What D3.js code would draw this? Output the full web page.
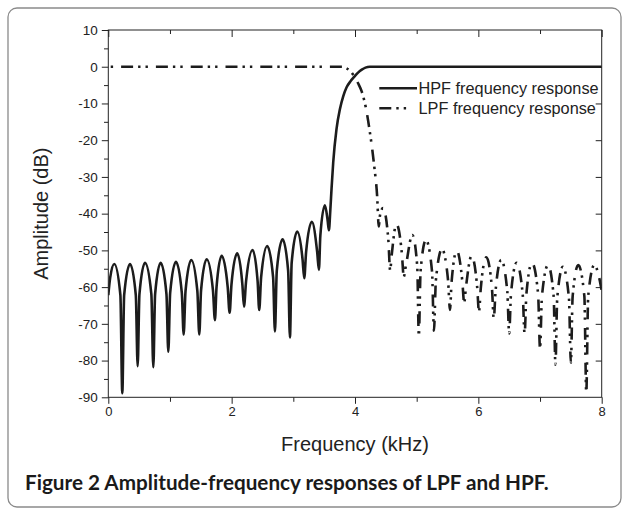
<!DOCTYPE html>
<html>
<head>
<meta charset="utf-8">
<script src="https://cdn.jsdelivr.net/npm/d3@7"></script>
<style>
  html, body { margin: 0; padding: 0; background: #fff; }
  svg { display: block; }
</style>
</head>
<body>
<script>
// --- data: [frequency kHz, amplitude dB] --------------------------------
const hpfPoints = [
  [0.000,-62.2],[0.030,-57.5],[0.097,-53.7],[0.196,-62.2],[0.227,-88.9],
  [0.257,-62.2],[0.352,-53.7],[0.446,-62.2],[0.476,-81.5],
  [0.505,-61.9],[0.595,-53.4],[0.698,-61.9],[0.730,-81.8],
  [0.759,-61.9],[0.849,-53.4],[0.943,-61.9],[0.973,-77.6],
  [1.003,-61.6],[1.097,-53.1],[1.192,-61.6],[1.222,-72.9],
  [1.252,-61.1],[1.345,-52.6],[1.444,-61.1],[1.475,-72.9],
  [1.504,-60.9],[1.595,-52.4],[1.697,-60.9],[1.729,-69.0],
  [1.755,-60.0],[1.838,-51.5],[1.936,-60.0],[1.967,-67.0],
  [1.997,-59.3],[2.090,-50.8],[2.174,-59.3],[2.200,-65.3],
  [2.234,-58.4],[2.340,-49.9],[2.421,-58.4],[2.447,-66.2],
  [2.478,-57.3],[2.577,-48.8],[2.672,-57.3],[2.702,-72.1],
  [2.732,-55.5],[2.826,-47.0],[2.916,-55.5],[2.945,-73.7],
  [2.973,-53.4],[3.063,-44.9],[3.150,-52.5],[3.177,-57.6],
  [3.207,-50.5],[3.300,-42.2],[3.387,-50.5],[3.415,-55.3],
  [3.438,-46.0],[3.512,-37.7],[3.556,-41.8],[3.577,-44.5],
  [3.600,-39.0],[3.620,-33.1],[3.647,-26.0],[3.700,-17.0],[3.755,-11.6],
  [3.810,-8.0],[3.864,-5.6],[3.930,-3.9],[3.990,-2.7],[4.050,-1.6],
  [4.110,-0.8],[4.170,-0.25],[4.240,0],[8.000,0]
];

const lpfPoints = [
  [0.000,0],[3.800,0],[3.860,-0.4],[3.930,-1.3],[3.990,-2.7],[4.050,-4.5],
  [4.110,-6.8],[4.180,-11.5],[4.240,-17.7],[4.310,-26.8],[4.360,-35.5],[4.385,-43.5],
  [4.405,-40.5],[4.455,-38.5],[4.540,-47.0],[4.570,-55.4],
  [4.595,-51.3],[4.670,-42.8],[4.762,-51.3],[4.790,-57.2],
  [4.824,-54.3],[4.930,-45.8],[5.009,-54.3],[5.035,-73.3],
  [5.063,-55.7],[5.150,-47.2],[5.249,-55.7],[5.280,-71.9],
  [5.311,-58.2],[5.410,-49.7],[5.509,-58.2],[5.540,-66.2],
  [5.566,-58.6],[5.650,-50.1],[5.741,-58.6],[5.770,-64.3],
  [5.799,-60.0],[5.890,-51.5],[5.981,-60.0],[6.010,-66.7],
  [6.039,-60.4],[6.130,-51.9],[6.221,-60.4],[6.250,-68.7],
  [6.279,-61.1],[6.370,-52.6],[6.469,-61.1],[6.500,-72.6],
  [6.529,-61.9],[6.620,-53.4],[6.719,-61.9],[6.750,-72.8],
  [6.779,-61.9],[6.870,-53.4],[6.969,-61.9],[7.000,-76.7],
  [7.031,-62.5],[7.130,-54.0],[7.221,-62.5],[7.250,-81.1],
  [7.279,-63.0],[7.370,-54.5],[7.469,-63.0],[7.500,-80.6],
  [7.529,-62.5],[7.620,-54.0],[7.719,-62.5],[7.750,-88.9],
  [7.781,-62.5],[7.880,-54.0],[7.960,-57.5],[8.000,-61.0]
];

const xMajorTicks = [0, 2, 4, 6, 8];
const xMinorTicks = [1, 3, 5, 7];
const yMajorTicks = [10, 0, -10, -20, -30, -40, -50, -60, -70, -80, -90];
const yMinorTicks = [5, -5, -15, -25, -35, -45, -55, -65, -75, -85];
const seriesNames = ["HPF frequency response", "LPF frequency response"];
const captionLabel = "Figure 2";
const captionText = " Amplitude-frequency responses of LPF and HPF.";

// --- layout ---------------------------------------------------------------
const W = 625, H = 510;
const plot = { left: 108.3, right: 601.7, top: 30, bottom: 397.3 };
const ink = "#222";
const lpfDash = "12,5,2.4,5,2.4,8";

const x = d3.scaleLinear([0, 8], [plot.left, plot.right]);
const y = d3.scaleLinear([-90, 10], [plot.bottom, plot.top]);

const svg = d3.select("body").append("svg")
  .attr("width", W).attr("height", H)
  .attr("font-family", "'Liberation Sans', Arial, sans-serif");

// rounded figure border
svg.append("rect")
  .attr("x", 8).attr("y", 8).attr("width", 613).attr("height", 499)
  .attr("rx", 9).attr("fill", "none")
  .attr("stroke", "#8a8a8a").attr("stroke-width", 1.3);

// --- axes -----------------------------------------------------------------
function tidy(g, fontSize) {
  g.select(".domain").remove();
  g.selectAll("line").attr("stroke", ink).attr("stroke-width", 1);
  g.selectAll("text").attr("fill", ink)
    .attr("font-size", fontSize)
    .attr("font-family", "'Liberation Sans', Arial, sans-serif");
}

svg.append("g").attr("transform", `translate(0,${plot.bottom})`)
  .call(d3.axisBottom(x).tickValues(xMajorTicks).tickSize(6.5).tickPadding(3)
        .tickFormat(d => String(d)))
  .call(g => tidy(g, 13));
svg.append("g").attr("transform", `translate(0,${plot.bottom})`)
  .call(d3.axisBottom(x).tickValues(xMinorTicks).tickSize(4.5).tickFormat(""))
  .call(g => tidy(g, 13));

// top axis: ticks point inward
svg.append("g").attr("transform", `translate(0,${plot.top})`)
  .call(d3.axisBottom(x).tickValues(xMajorTicks).tickSize(7).tickFormat(""))
  .call(g => tidy(g, 13));
svg.append("g").attr("transform", `translate(0,${plot.top})`)
  .call(d3.axisBottom(x).tickValues(xMinorTicks).tickSize(4).tickFormat(""))
  .call(g => tidy(g, 13));

svg.append("g").attr("transform", `translate(${plot.left},0)`)
  .call(d3.axisLeft(y).tickValues(yMajorTicks).tickSize(6.5).tickPadding(4)
        .tickFormat(d => String(d)))
  .call(g => tidy(g, 13.5));
svg.append("g").attr("transform", `translate(${plot.left},0)`)
  .call(d3.axisLeft(y).tickValues(yMinorTicks).tickSize(4.3).tickFormat(""))
  .call(g => tidy(g, 13.5));

// right axis: inward major ticks only
svg.append("g").attr("transform", `translate(${plot.right},0)`)
  .call(d3.axisLeft(y).tickValues(yMajorTicks.slice(1, -1)).tickSize(6).tickFormat(""))
  .call(g => tidy(g, 13.5));

// frame
svg.append("rect")
  .attr("x", plot.left).attr("y", plot.top)
  .attr("width", plot.right - plot.left).attr("height", plot.bottom - plot.top)
  .attr("fill", "none").attr("stroke", ink).attr("stroke-width", 1);

// --- curves ---------------------------------------------------------------
svg.append("defs").append("clipPath").attr("id", "plotClip")
  .append("rect")
  .attr("x", plot.left).attr("y", plot.top)
  .attr("width", plot.right - plot.left).attr("height", plot.bottom - plot.top);

const line = d3.line()
  .x(d => x(d[0])).y(d => y(d[1]))
  .curve(d3.curveMonotoneX);

const curves = svg.append("g").attr("clip-path", "url(#plotClip)")
  .attr("fill", "none").attr("stroke", "#1c1c1c").attr("stroke-width", 2.6)
  .attr("stroke-linejoin", "round");

curves.append("path").attr("d", line(hpfPoints));
curves.append("path").attr("d", line(lpfPoints))
  .attr("stroke-dasharray", lpfDash).attr("stroke-dashoffset", 22);

// --- legend ---------------------------------------------------------------
const legend = svg.append("g").attr("font-size", 16.3).attr("fill", ink);
[
  { name: seriesNames[0], dash: null, yLine: 88.3, yText: 94 },
  { name: seriesNames[1], dash: lpfDash, yLine: 108.3, yText: 113.5 }
].forEach(s => {
  legend.append("line")
    .attr("x1", 379.3).attr("x2", s.dash ? 411 : 417)
    .attr("y1", s.yLine).attr("y2", s.yLine)
    .attr("stroke", "#1c1c1c").attr("stroke-width", 2.6)
    .attr("stroke-dasharray", s.dash);
  legend.append("text").attr("x", 418.5).attr("y", s.yText).text(s.name);
});

// --- axis titles ----------------------------------------------------------
svg.append("text")
  .attr("x", (plot.left + plot.right) / 2).attr("y", 451)
  .attr("text-anchor", "middle").attr("font-size", 20).attr("fill", ink)
  .text("Frequency (kHz)");

svg.append("text")
  .attr("transform", `translate(48,${(plot.top + plot.bottom) / 2}) rotate(-90)`)
  .attr("text-anchor", "middle").attr("font-size", 20).attr("fill", ink)
  .text("Amplitude (dB)");

// --- caption --------------------------------------------------------------
const caption = svg.append("text")
  .attr("x", 25).attr("y", 490)
  .attr("font-family", "Lato, 'Open Sans', sans-serif")
  .attr("font-weight", "bold").attr("font-size", 17).attr("fill", "#1a1a1a");
caption.append("tspan").text(captionLabel);
caption.append("tspan").text(captionText);
// fit the caption to the width it has in the figure
const capW = caption.node().getComputedTextLength();
caption.attr("font-size", 17 * 524 / capW);
</script>
</body>
</html>
